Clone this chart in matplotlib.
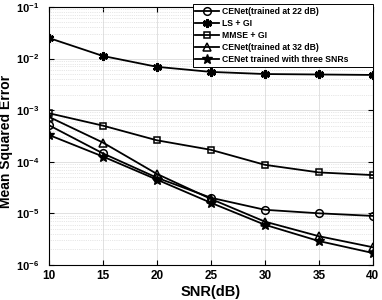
import matplotlib.pyplot as plt
from matplotlib.ticker import LogLocator, FixedLocator, NullFormatter

plt.rcParams['font.family'] = ['Liberation Sans', 'DejaVu Sans']
plt.rcParams['font.weight'] = 'bold'
plt.rcParams['mathtext.fontset'] = 'custom'
plt.rcParams['mathtext.rm'] = 'Liberation Sans:bold'
plt.rcParams['mathtext.bf'] = 'Liberation Sans:bold'
plt.rcParams['mathtext.default'] = 'bf'

snr = [10, 15, 20, 25, 30, 35, 40]

# MSE values
cenet_22 = [5.1e-4, 1.45e-4, 4.9e-5, 2.0e-5, 1.17e-5, 1.0e-5, 8.9e-6]
ls_gi = [2.5e-2, 1.12e-2, 6.9e-3, 5.5e-3, 5.0e-3, 4.9e-3, 4.8e-3]
mmse_gi = [8.7e-4, 5.0e-4, 2.6e-4, 1.7e-4, 8.7e-5, 6.2e-5, 5.5e-5]
cenet_32 = [7.4e-4, 2.35e-4, 5.8e-5, 1.9e-5, 6.9e-6, 3.6e-6, 2.2e-6]
cenet_three = [3.3e-4, 1.26e-4, 4.5e-5, 1.6e-5, 6.0e-6, 2.9e-6, 1.7e-6]

labels = ['CENet(trained at 22 dB)', 'LS + GI', 'MMSE + GI',
          'CENet(trained at 32 dB)', 'CENet trained with three SNRs']

fig = plt.figure(figsize=(3.82, 3.0), dpi=100)
ax = fig.add_axes([0.128, 0.117, 0.848, 0.86])

lw = 1.3
ax.semilogy(snr, cenet_22, '-o', color='k', lw=lw, ms=5.5, mfc='none', mew=1.1, label=labels[0])
ax.semilogy(snr, ls_gi, '-', marker=(6, 2, 0), color='k', lw=lw, ms=6.5, mew=2.0, label=labels[1])
ax.semilogy(snr, mmse_gi, '-s', color='k', lw=lw, ms=4.5, mfc='none', mew=1.1, label=labels[2])
ax.semilogy(snr, cenet_32, '-^', color='k', lw=lw, ms=6, mfc='none', mew=1.1, label=labels[3])
ax.semilogy(snr, cenet_three, '-*', color='k', lw=lw, ms=7.5, mfc='k', label=labels[4])

ax.set_xlim(10, 40)
ax.set_ylim(1e-6, 1e-1)
ax.set_xticks(snr)
ax.yaxis.set_major_locator(FixedLocator([1e-6, 1e-5, 1e-4, 1e-3, 1e-2, 1e-1]))
ax.set_yticklabels([r'$10^{-6}$', r'$10^{-5}$', r'$10^{-4}$', r'$10^{-3}$',
                    r'$10^{-2}$', r'$10^{-1}$'])
ax.yaxis.set_minor_locator(LogLocator(base=10, subs=range(2, 10), numticks=20))
ax.yaxis.set_minor_formatter(NullFormatter())

ax.grid(True, which='major', color='#dcdcdc', lw=0.6)
ax.grid(True, which='minor', color='#d0d0d0', lw=0.5, ls=':')
ax.tick_params(which='both', direction='in', top=True, right=True, labelsize=8.5)
ax.tick_params(axis='y', pad=7, labelsize=8)
ax.tick_params(which='minor', length=0)
for s in ax.spines.values():
    s.set_linewidth(0.8)

ax.set_xlabel('SNR(dB)', fontsize=10.5, fontweight='bold', labelpad=2)
ax.set_ylabel('Mean Squared Error', fontsize=10, fontweight='bold')
ax.yaxis.set_label_coords(-0.112, 0.48)

leg = ax.legend(loc='upper left', bbox_to_anchor=(0.444, 0.5, 0.556, 0.51), mode='expand',
                prop={'size': 6.2, 'weight': 'bold'},
                frameon=True, fancybox=False,
                edgecolor='k', framealpha=1, handlelength=2.8, handletextpad=0.25,
                labelspacing=0.35, borderpad=0.3, borderaxespad=0.0)
leg.get_frame().set_linewidth(0.7)

fig.savefig('out.png', dpi=100)
